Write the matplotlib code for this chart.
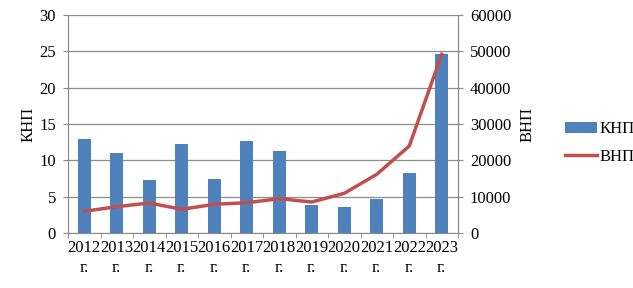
import matplotlib
matplotlib.use("Agg")
import matplotlib.pyplot as plt
import numpy as np

years = ["2012", "2013", "2014", "2015", "2016", "2017",
         "2018", "2019", "2020", "2021", "2022", "2023"]
knp = [12.9, 11.0, 7.3, 12.2, 7.4, 12.65, 11.3, 3.85, 3.6, 4.7, 8.25, 24.65]
vnp = [5970, 7240, 8260, 6520, 7900, 8340, 9440, 8530, 10920, 16150, 23940, 49180]

plt.rcParams["font.family"] = ["Liberation Serif", "DejaVu Serif"]
plt.rcParams["font.size"] = 12

fig = plt.figure(figsize=(6.33, 2.88), dpi=100)
ax = fig.add_axes([68 / 633, 1 - 233 / 288, 390 / 633, 218 / 288])
ax2 = ax.twinx()

x = np.arange(len(years))
bars = ax.bar(x, knp, width=0.4, color="#4F81BD", zorder=3, label="КНП")
line, = ax2.plot(x, vnp, color="#C0504D", lw=2.5, zorder=4, label="ВНП")

ax.set_xlim(-0.5, len(years) - 0.5)
ax.set_ylim(0, 30)
ax.set_yticks(range(0, 31, 5))
ax2.set_ylim(0, 60000)
ax2.set_yticks(range(0, 60001, 10000))

ax.set_xticks(x)
ax.set_xticklabels([y + "\nг." for y in years], linespacing=1.35)
ax.set_xticks(np.arange(-0.5, len(years), 1), minor=True)
ax.tick_params(axis="x", which="major", length=0, pad=5)
ax.tick_params(axis="x", which="minor", length=3.6, color="#888888")
ax.tick_params(axis="y", length=3.6, color="#888888", pad=5)
ax2.tick_params(axis="y", length=3.6, color="#888888", pad=5)

ax.grid(axis="y", color="#8c8c8c", lw=0.9, zorder=0)
ax.set_axisbelow(True)

for a in (ax, ax2):
    a.spines["top"].set_visible(False)
    for s in ("left", "right", "bottom"):
        a.spines[s].set_color("#888888")
ax2.spines["left"].set_visible(False)
ax2.spines["bottom"].set_visible(False)

ax.set_ylabel("КНП", labelpad=2)
ax2.set_ylabel("ВНП", labelpad=6)

fig.legend([bars, line], ["КНП", "ВНП"], loc="center left",
           bbox_to_anchor=(550 / 633, 1 - 143 / 288), frameon=False,
           handlelength=1.9, handletextpad=0.15, labelspacing=0.7, fontsize=12)

fig.savefig("out.png", dpi=100)
